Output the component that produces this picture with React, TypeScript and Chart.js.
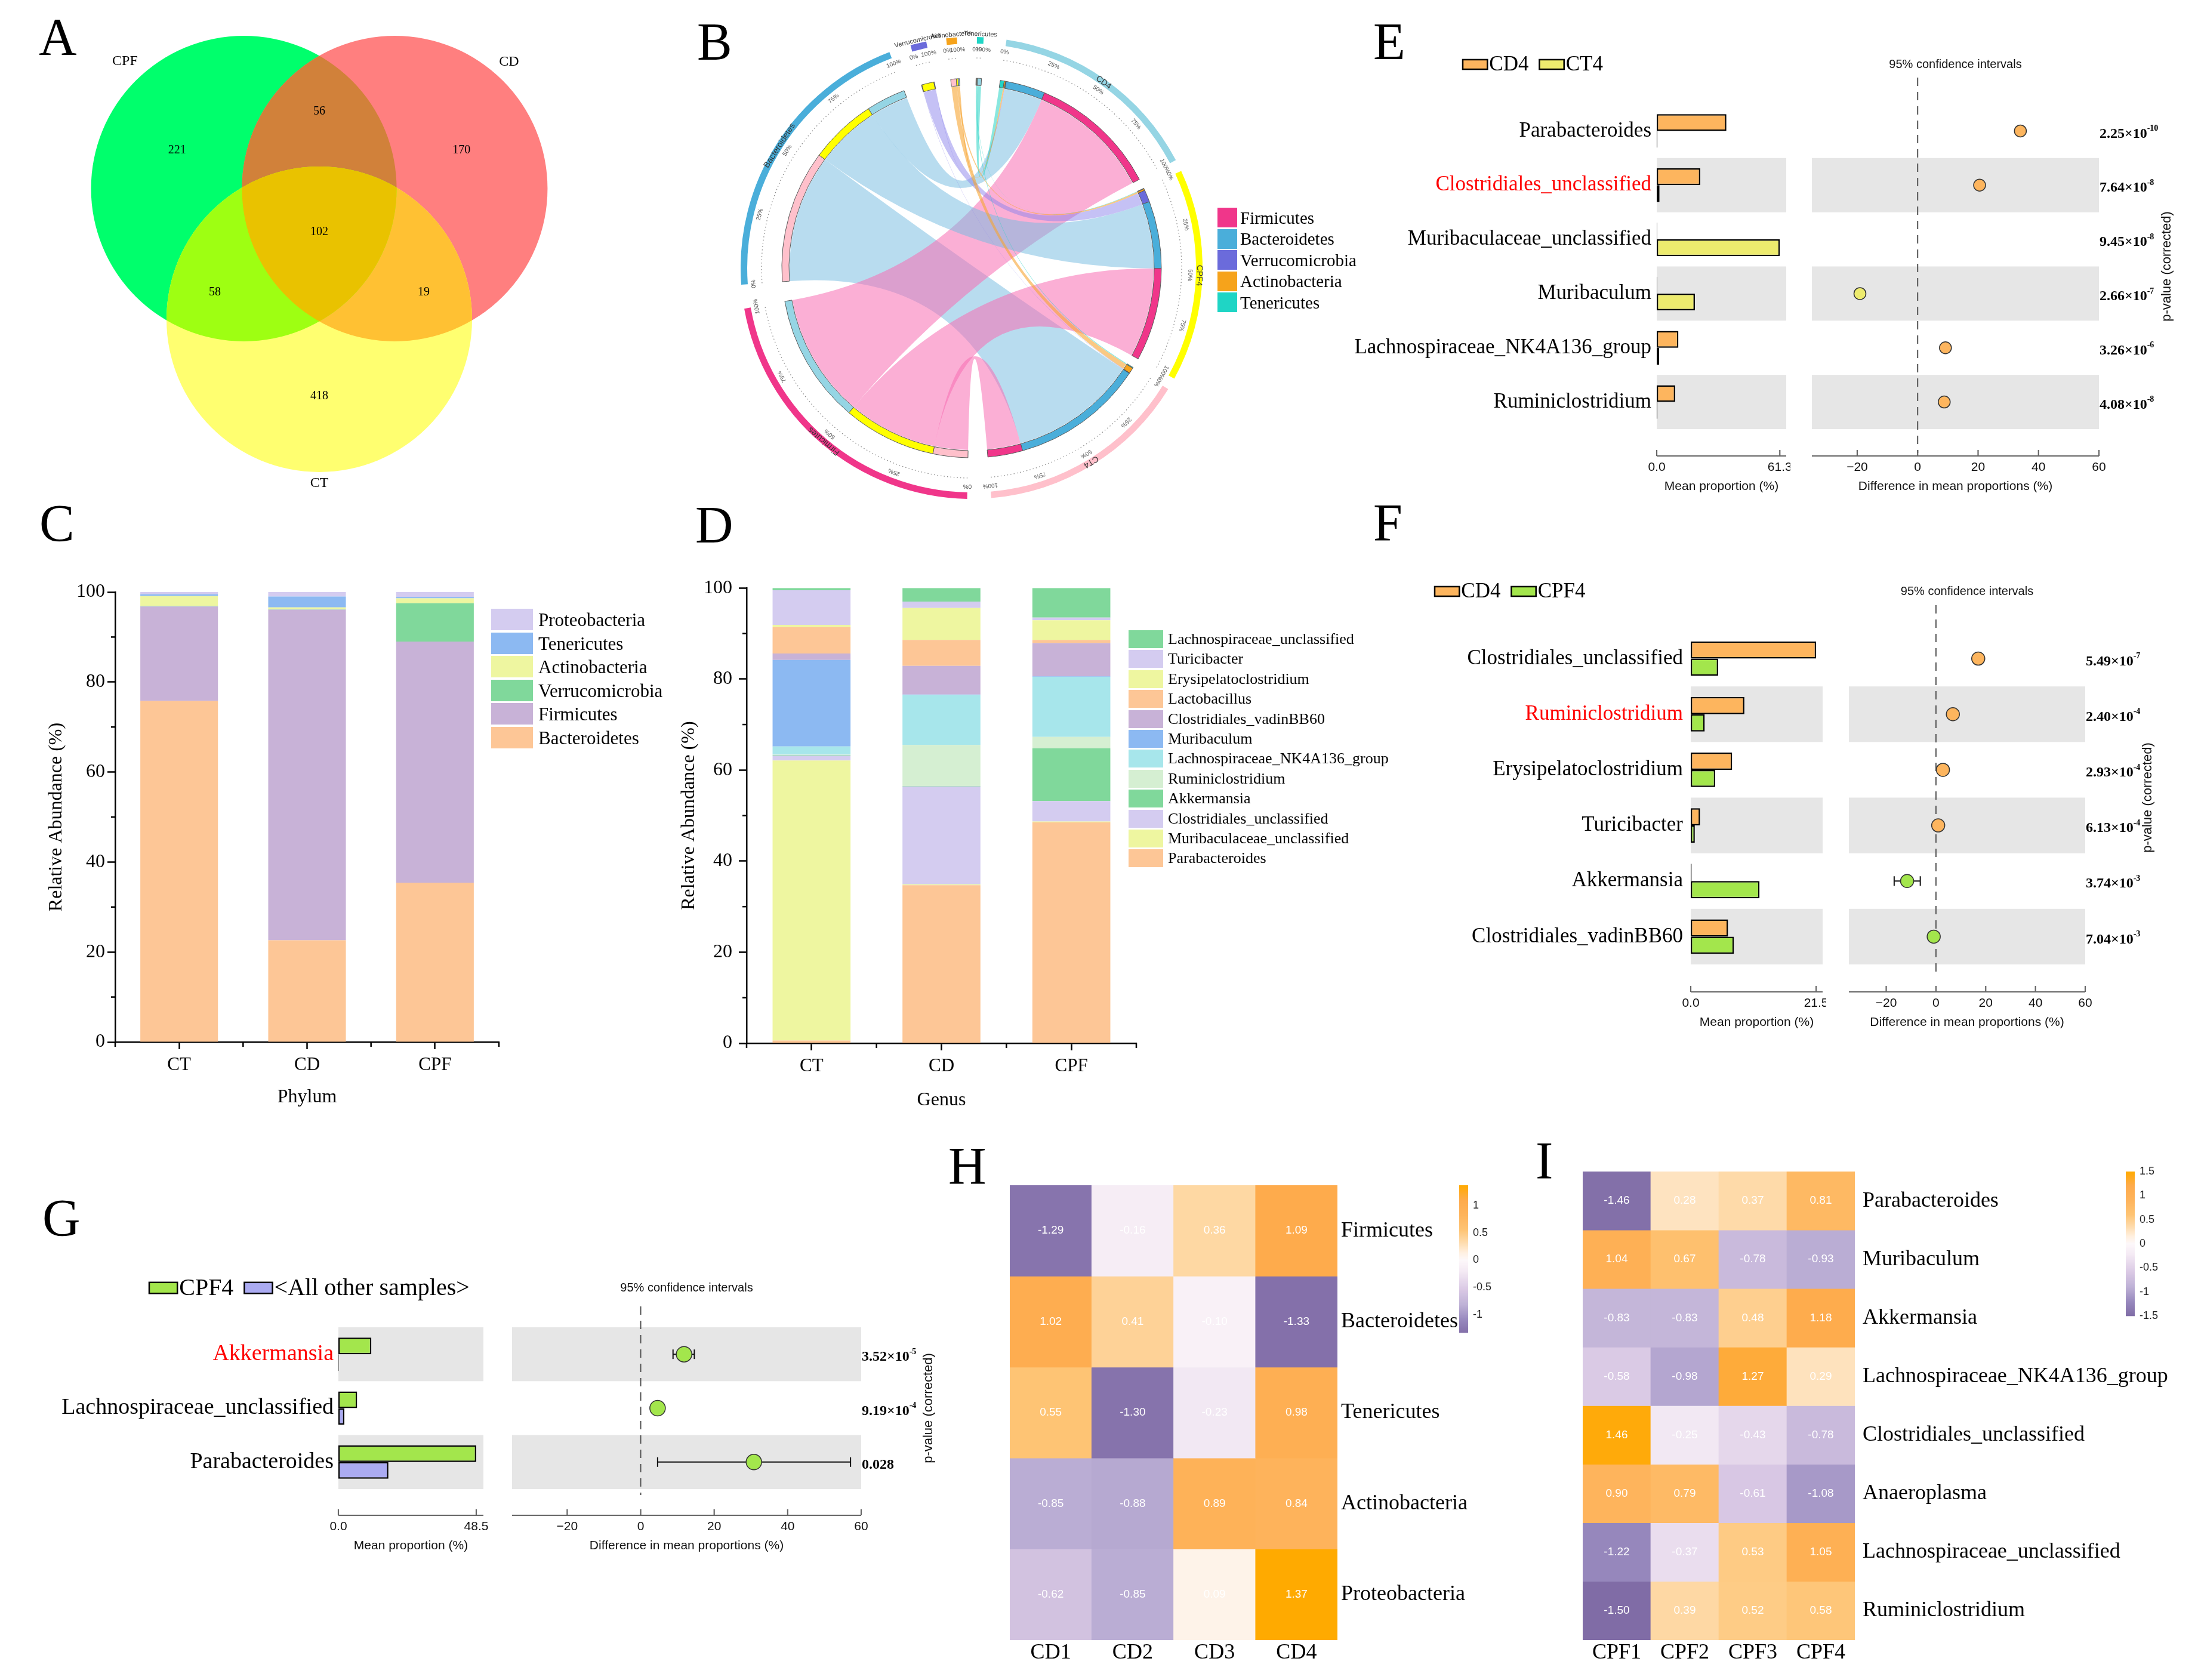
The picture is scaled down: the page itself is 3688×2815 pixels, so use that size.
import React, { useEffect, useRef } from 'react';
import { Chart, registerables } from 'chart.js';

Chart.register(...registerables);

const SERIF = '"Liberation Serif", "Times New Roman", Times, serif';
const SANS = '"Liberation Sans", Arial, Helvetica, sans-serif';

// ================= Panel A : Venn =================
const vennSets = ['CPF', 'CD', 'CT'];
const vennOnly = [221, 170, 418];
const vennPairs = [56, 19, 58]; // CPF∩CD, CD∩CT, CPF∩CT
const vennAll = [102];
const vennColors = ['#00FF6C', '#FF7F7F', '#FFFF70'];
const vennPairColors = ['#D1813A', '#FFC133', '#9EFF12'];
const vennTripleColor = '#E9C200';
const vennAngles = [150, 30, 270];
const VENN_DIST = 1.46;
const VENN_R = 256;
const vennLabelAngles = [133, 48, 270];
const vennLabelDist = [2.92, 2.86, 2.75];

// ================= Panel B : chord =================
const chordSamples = ['CD4', 'CPF4', 'CT4'];
const chordPhyla = ['Firmicutes', 'Bacteroidetes', 'Verrucomicrobia', 'Actinobacteria', 'Tenericutes'];
const chordCD4 = [74.0, 22.6, 0.3, 0.8, 2.3];
const chordCPF4 = [53.3, 38.5, 6.9, 1.0, 0.3];
const chordCT4 = [20.0, 76.0, 0.3, 3.2, 0.5];
const chordSampleColors = ['#95D5E4', '#FFFF00', '#FFC0CB'];
const chordPhylumColors = ['#F0368A', '#4AAEDA', '#6B6BDB', '#F6A31B', '#1FD5C5'];
const chordRibbonColors = ['rgba(248,110,178,0.55)', 'rgba(118,188,224,0.52)', 'rgba(140,132,235,0.5)', 'rgba(246,165,50,0.6)', 'rgba(40,212,196,0.55)'];
const chordGapsDeg = [3, 3, 6, 6, 5.5, 5, 5, 5.7];
const CHORD_START = 8.7;

// ================= Panel C : phylum stacked =================
const phylumGroups = ['CT', 'CD', 'CPF'];
const phyBacteroidetes = [75.8, 22.6, 35.4];
const phyFirmicutes = [21.0, 73.5, 53.6];
const phyVerrucomicrobia = [0.1, 0.1, 8.5];
const phyActinobacteria = [2.2, 0.4, 1.1];
const phyTenericutes = [0.4, 2.4, 0.3];
const phyProteobacteria = [0.5, 1.0, 1.1];

// ================= Panel D : genus stacked =================
const genusGroups = ['CT', 'CD', 'CPF'];
const genParabacteroides = [0.6, 34.7, 48.5];
const genMuribaculaceaeUncl = [61.5, 0.2, 0.2];
const genClostridialesUncl = [1.1, 21.5, 4.5];
const genAkkermansia = [0.1, 0.1, 11.6];
const genRuminiclostridium = [0.1, 9.0, 2.5];
const genLachnoNK4A136 = [1.8, 11.0, 13.2];
const genMuribaculum = [19.0, 0.1, 0.1];
const genClostridialesVadin = [1.4, 6.3, 7.3];
const genLactobacillus = [5.8, 5.7, 0.7];
const genErysipelatoclostridium = [0.5, 7.0, 4.3];
const genTuricibacter = [7.6, 1.4, 0.6];
const genLachnoUncl = [0.5, 3.0, 6.5];

// ================= Panels E/F/G : extended error bars =================
const COL_CD4 = '#FDB55E';
const COL_CT4 = '#EDEB6E';
const COL_CPF4 = '#A3E64C';
const COL_OTHER = '#ABABF2';
const diffTicks = [-20, 0, 20, 40, 60];

const eTaxa = ['Parabacteroides', 'Clostridiales_unclassified', 'Muribaculaceae_unclassified', 'Muribaculum', 'Lachnospiraceae_NK4A136_group', 'Ruminiclostridium'];
const eGroups = ['CD4', 'CT4'];
const eMeanCD4 = [34.7, 21.7, 0.2, 0.2, 10.8, 9.2];
const eMeanCT4 = [0.3, 1.4, 61.3, 19.0, 1.2, 0.3];
const eMeanTicks = [0, 61.3];
const eDiff = [34.0, 20.5, -60.7, -19.1, 9.2, 8.8];
const eCiLow = [33.2, 19.7, -62.0, -19.9, 8.5, 8.1];
const eCiHigh = [34.8, 21.3, -59.4, -18.3, 9.9, 9.5];
const ePMant = ['2.25', '7.64', '9.45', '2.66', '3.26', '4.08'];
const ePExp = ['-10', '-8', '-8', '-7', '-6', '-8'];

const fTaxa = ['Clostridiales_unclassified', 'Ruminiclostridium', 'Erysipelatoclostridium', 'Turicibacter', 'Akkermansia', 'Clostridiales_vadinBB60'];
const fGroups = ['CD4', 'CPF4'];
const fMeanCD4 = [21.5, 9.2, 7.1, 1.6, 0.15, 6.4];
const fMeanCPF4 = [4.7, 2.4, 4.2, 0.7, 11.8, 7.4];
const fMeanTicks = [0, 21.5];
const fDiff = [17.0, 6.8, 2.8, 0.9, -11.6, -0.9];
const fCiLow = [16.2, 6.0, 2.0, 0.2, -16.8, -1.7];
const fCiHigh = [17.8, 7.6, 3.6, 1.6, -6.3, -0.1];
const fPMant = ['5.49', '2.40', '2.93', '6.13', '3.74', '7.04'];
const fPExp = ['-7', '-4', '-4', '-4', '-3', '-3'];

const gTaxa = ['Akkermansia', 'Lachnospiraceae_unclassified', 'Parabacteroides'];
const gGroups = ['CPF4', '<All other samples>'];
const gMeanCPF4 = [11.6, 6.6, 48.5];
const gMeanOthers = [0.15, 2.1, 17.6];
const gMeanTicks = [0, 48.5];
const gDiff = [11.8, 4.6, 30.8];
const gCiLow = [8.8, 3.8, 4.6];
const gCiHigh = [14.6, 5.4, 57.1];
const gPMant = ['3.52', '9.19', '0.028'];
const gPExp = ['-5', '-4', ''];

// ================= Panels H/I : heatmaps =================
const hCols = ['CD1', 'CD2', 'CD3', 'CD4'];
const hRows = ['Firmicutes', 'Bacteroidetes', 'Tenericutes', 'Actinobacteria', 'Proteobacteria'];
const hFirmicutes = [-1.29, -0.16, 0.36, 1.09];
const hBacteroidetes = [1.02, 0.41, -0.10, -1.33];
const hTenericutes = [0.55, -1.30, -0.23, 0.98];
const hActinobacteria = [-0.85, -0.88, 0.89, 0.84];
const hProteobacteria = [-0.62, -0.85, 0.09, 1.37];
const hBarTicks = [1, 0.5, 0, -0.5, -1];

const iCols = ['CPF1', 'CPF2', 'CPF3', 'CPF4'];
const iRows = ['Parabacteroides', 'Muribaculum', 'Akkermansia', 'Lachnospiraceae_NK4A136_group', 'Clostridiales_unclassified', 'Anaeroplasma', 'Lachnospiraceae_unclassified', 'Ruminiclostridium'];
const iParabacteroides = [-1.46, 0.28, 0.37, 0.81];
const iMuribaculum = [1.04, 0.67, -0.78, -0.93];
const iAkkermansia = [-0.83, -0.83, 0.48, 1.18];
const iLachnoNK = [-0.58, -0.98, 1.27, 0.29];
const iClostUncl = [1.46, -0.25, -0.43, -0.78];
const iAnaeroplasma = [0.90, 0.79, -0.61, -1.08];
const iLachnoUncl = [-1.22, -0.37, 0.53, 1.05];
const iRuminiclostridium = [-1.50, 0.39, 0.52, 0.58];
const iBarTicks = [1.5, 1, 0.5, 0, -0.5, -1, -1.5];

const heatStops: [number, number[]][] = [
  [-1, [128, 108, 166]], [-0.8, [152, 137, 190]], [-0.6, [190, 177, 214]], [-0.4, [217, 200, 228]],
  [-0.15, [244, 234, 244]], [0, [253, 248, 250]], [0.1, [255, 240, 224]], [0.26, [254, 216, 164]],
  [0.4, [254, 196, 116]], [0.6, [254, 180, 92]], [0.8, [254, 171, 76]], [1, [255, 170, 0]],
];

function heatColor(t: number) {
  const v = Math.max(-1, Math.min(1, t));
  for (let i = 0; i < heatStops.length - 1; i++) {
    const [a, ca] = heatStops[i];
    const [b, cb] = heatStops[i + 1];
    if (v >= a && v <= b) {
      const f = (v - a) / (b - a);
      const c = ca.map((x, k) => Math.round(x + (cb[k] - x) * f));
      return `rgb(${c[0]},${c[1]},${c[2]})`;
    }
  }
  return 'rgb(255,170,0)';
}

const line = (ctx: any, x1: number, y1: number, x2: number, y2: number) => {
  ctx.beginPath(); ctx.moveTo(x1, y1); ctx.lineTo(x2, y2); ctx.stroke();
};

const base = (padding: any) => ({
  responsive: false,
  animation: false,
  events: [],
  layout: { padding, autoPadding: false },
  plugins: { legend: { display: false }, tooltip: { enabled: false } },
});

function ChartCanvas({ box, make }: any) {
  const ref = useRef<HTMLCanvasElement | null>(null);
  useEffect(() => {
    if (!ref.current) return;
    const chart = new Chart(ref.current, make());
    return () => chart.destroy();
  }, []);
  return (
    <canvas ref={ref} width={box.w} height={box.h}
      style={{ position: 'absolute', left: box.x, top: box.y, width: box.w, height: box.h }} />
  );
}

function Txt({ x, y, s, size, family = SERIF, align = 'left', color = '#000', weight = 400 }: any) {
  const tx = align === 'left' ? '0' : align === 'center' ? '-50%' : '-100%';
  return (
    <div style={{ position: 'absolute', left: x, top: y, transform: `translate(${tx}, -50%)`, fontSize: size, fontFamily: family, lineHeight: 1, whiteSpace: 'nowrap', color, fontWeight: weight }}>{s}</div>
  );
}

// ---------------- Venn ----------------
const vennPlugin = {
  id: 'venn',
  afterDatasetsDraw(chart: any) {
    const ctx = chart.ctx;
    const pts = chart.getDatasetMeta(0).data.map((e: any) => ({ x: e.x, y: e.y }));
    const circ = (i: number) => { ctx.beginPath(); ctx.arc(pts[i].x, pts[i].y, VENN_R, 0, Math.PI * 2); };
    const pairIdx = [[0, 1], [1, 2], [0, 2]];
    pairIdx.forEach(([i, j], k) => {
      ctx.save(); circ(i); ctx.clip(); circ(j); ctx.fillStyle = vennPairColors[k]; ctx.fill(); ctx.restore();
    });
    ctx.save(); circ(0); ctx.clip(); circ(1); ctx.clip(); circ(2); ctx.fillStyle = vennTripleColor; ctx.fill(); ctx.restore();
    const xs = chart.scales.x, ys = chart.scales.y;
    const cx = xs.getPixelForValue(0), cy = ys.getPixelForValue(0);
    const unit = xs.getPixelForValue(1) - cx;
    const dir = vennAngles.map((a) => ({ x: Math.cos(a * Math.PI / 180), y: -Math.sin(a * Math.PI / 180) }));
    ctx.save();
    ctx.fillStyle = '#000'; ctx.textAlign = 'center'; ctx.textBaseline = 'middle';
    ctx.font = `20px ${SERIF}`;
    vennOnly.forEach((n, i) => ctx.fillText(String(n), cx + dir[i].x * 2.75 * unit, cy + dir[i].y * 2.75 * unit));
    pairIdx.forEach(([i, j], k) => {
      const o = 3 - i - j;
      ctx.fillText(String(vennPairs[k]), cx - dir[o].x * 2.02 * unit, cy - dir[o].y * 2.02 * unit);
    });
    ctx.fillText(String(vennAll[0]), cx, cy);
    ctx.font = `24px ${SERIF}`;
    vennSets.forEach((s, i) => {
      const a = vennLabelAngles[i] * Math.PI / 180;
      ctx.fillText(s, pts[i].x + Math.cos(a) * vennLabelDist[i] * unit, pts[i].y - Math.sin(a) * vennLabelDist[i] * unit);
    });
    ctx.restore();
  },
};

function vennConfig() {
  const pts = vennAngles.map((a) => ({ x: VENN_DIST * Math.cos(a * Math.PI / 180), y: VENN_DIST * Math.sin(a * Math.PI / 180), r: VENN_R }));
  return {
    type: 'bubble',
    data: { datasets: [{ data: pts, backgroundColor: vennColors, borderWidth: 0, hoverBorderWidth: 0, hoverRadius: 0, clip: false }] },
    options: {
      ...base(0),
      scales: {
        x: { type: 'linear', min: -5.35, max: 6.15, display: false },
        y: { type: 'linear', min: -4.71, max: 3.89, display: false },
      },
    },
    plugins: [vennPlugin],
  };
}

// ---------------- Chord ----------------
function chordData() {
  const M = [chordCD4, chordCPF4, chordCT4];
  const sampleTotals = M.map((r) => r.reduce((a, b) => a + b, 0));
  const phylumTotals = chordPhyla.map((_, p) => M.reduce((a, r) => a + r[p], 0));
  const units = sampleTotals.reduce((a, b) => a + b, 0) + phylumTotals.reduce((a, b) => a + b, 0);
  const gapSum = chordGapsDeg.reduce((a, b) => a + b, 0);
  const upd = units / (360 - gapSum);
  const outerData: number[] = [], outerColors: string[] = [];
  const innerData: number[] = [], innerColors: string[] = [], innerBorders: number[] = [];
  const sectorIdx: number[] = [], sectorNames: string[] = [];
  const sampleSeg: number[][] = M.map(() => []);
  const phylumSeg: number[][] = chordPhyla.map(() => []);
  const T = 'rgba(0,0,0,0)';
  let g = 0;
  const gap = () => {
    const u = chordGapsDeg[g++] * upd;
    outerData.push(u); outerColors.push(T);
    innerData.push(u); innerColors.push(T); innerBorders.push(0);
  };
  M.forEach((row, s) => {
    sectorIdx.push(outerData.length); sectorNames.push(chordSamples[s]);
    outerData.push(sampleTotals[s]); outerColors.push(chordSampleColors[s]);
    [4, 3, 2, 1, 0].forEach((p) => {
      sampleSeg[s][p] = innerData.length; innerData.push(row[p]); innerColors.push(chordPhylumColors[p]); innerBorders.push(1);
    });
    gap();
  });
  chordPhyla.forEach((name, p) => {
    sectorIdx.push(outerData.length); sectorNames.push(name);
    outerData.push(phylumTotals[p]); outerColors.push(chordPhylumColors[p]);
    [2, 1, 0].forEach((s) => {
      phylumSeg[p][s] = innerData.length; innerData.push(M[s][p]); innerColors.push(chordSampleColors[s]); innerBorders.push(1);
    });
    gap();
  });
  const links: any[] = [];
  M.forEach((row, s) => row.forEach((v, p) => links.push({ a: sampleSeg[s][p], b: phylumSeg[p][s], v, color: chordRibbonColors[p] })));
  links.sort((x, y) => y.v - x.v);
  return { outerData, outerColors, innerData, innerColors, innerBorders, sectorIdx, sectorNames, links };
}

function chordConfig() {
  const d = chordData();
  const plugin = {
    id: 'chords',
    afterDatasetsDraw(chart: any) {
      const ctx = chart.ctx;
      const arcs = chart.getDatasetMeta(2).data;
      const outs = chart.getDatasetMeta(0).data;
      const cx = arcs[0].x, cy = arcs[0].y;
      const r = arcs[0].innerRadius - 1;
      const pt = (a: number) => [cx + r * Math.cos(a), cy + r * Math.sin(a)];
      ctx.save();
      d.links.forEach((l: any) => {
        const A = arcs[l.a], B = arcs[l.b];
        ctx.beginPath();
        ctx.arc(cx, cy, r, A.startAngle, A.endAngle);
        let p = pt(B.startAngle);
        ctx.quadraticCurveTo(cx, cy, p[0], p[1]);
        ctx.arc(cx, cy, r, B.startAngle, B.endAngle);
        p = pt(A.startAngle);
        ctx.quadraticCurveTo(cx, cy, p[0], p[1]);
        ctx.closePath();
        ctx.fillStyle = l.color;
        ctx.fill();
      });
      const arcText = (text: string, ang: number, rad: number, font: string, color: string) => {
        ctx.save();
        ctx.translate(cx + rad * Math.cos(ang), cy + rad * Math.sin(ang));
        ctx.rotate(ang + Math.PI / 2);
        ctx.font = font; ctx.fillStyle = color; ctx.textAlign = 'center'; ctx.textBaseline = 'middle';
        ctx.fillText(text, 0, 0);
        ctx.restore();
      };
      d.sectorIdx.forEach((idx: number, k: number) => {
        const e = outs[idx];
        const big = e.endAngle - e.startAngle > 0.25;
        ctx.save();
        ctx.strokeStyle = '#8a8a8a'; ctx.lineWidth = 1.3; ctx.setLineDash([1.5, 4]);
        ctx.beginPath(); ctx.arc(cx, cy, 352, e.startAngle, e.endAngle); ctx.stroke();
        ctx.restore();
        const fr = big ? [0, 0.25, 0.5, 0.75, 1] : [0, 1];
        fr.forEach((f) => {
          const ang = e.startAngle + (e.endAngle - e.startAngle) * f;
          arcText(`${Math.round(f * 100)}%`, ang, 366, `10px ${SANS}`, '#555');
        });
        const mid = (e.startAngle + e.endAngle) / 2;
        if (big) arcText(d.sectorNames[k], mid, (e.innerRadius + e.outerRadius) / 2, `14px ${SANS}`, '#333');
        else arcText(d.sectorNames[k], mid, 392, `11px ${SANS}`, '#333');
      });
      ctx.restore();
    },
  };
  return {
    type: 'doughnut',
    data: {
      labels: d.outerData.map((_: any, i: number) => String(i)),
      datasets: [
        { data: d.outerData, backgroundColor: d.outerColors, borderWidth: 0, hoverBorderWidth: 0, offset: 0, hoverOffset: 0, weight: 11 },
        { data: [1], backgroundColor: ['rgba(0,0,0,0)'], borderWidth: 0, hoverBorderWidth: 0, offset: 0, hoverOffset: 0, weight: 58 },
        { data: d.innerData, backgroundColor: d.innerColors, borderColor: '#5a5a5a', borderWidth: d.innerBorders, hoverBorderWidth: 0, offset: 0, hoverOffset: 0, weight: 12 },
      ],
    },
    options: { ...base({ top: 22, bottom: 10, left: 0, right: 226 }), rotation: CHORD_START, cutout: 306 },
    plugins: [plugin],
  };
}

// ---------------- Stacked bars (C, D) ----------------
const minorTicksPlugin = {
  id: 'minorTicks',
  afterDraw(chart: any) {
    const { ctx, chartArea: a, scales } = chart;
    const x = scales.x, y = scales.y;
    ctx.save(); ctx.strokeStyle = '#000'; ctx.lineWidth = 2.5;
    for (let v = 10; v < 100; v += 20) { const py = y.getPixelForValue(v); line(ctx, a.left - 7, py, a.left, py); }
    const n = chart.data.labels.length;
    for (let i = 0; i <= n; i++) { const px = x.getPixelForValue(i - 0.5); line(ctx, px, a.bottom, px, a.bottom + 8); }
    ctx.restore();
  },
};

function stackConfig(cats: string[], series: any[], lay: any) {
  const grid = { display: true, drawOnChartArea: false, drawTicks: true, tickWidth: 2.5, color: '#000', offset: false };
  return {
    type: 'bar',
    data: {
      labels: cats,
      datasets: series.map((s) => ({ label: s.name, data: s.data, backgroundColor: s.color, borderWidth: 0, barPercentage: lay.barPct, categoryPercentage: 1 })),
    },
    options: {
      ...base({ top: lay.padTop, right: lay.padRight, left: 0, bottom: 0 }),
      scales: {
        x: {
          stacked: true,
          grid: { ...grid, tickLength: 12 },
          border: { display: true, color: '#000', width: 2.5 },
          ticks: { font: { family: SERIF, size: 31 }, color: '#000', padding: 8 },
          title: { display: true, text: lay.xTitle, font: { family: SERIF, size: 32 }, color: '#000', padding: { top: 0, bottom: lay.xTitlePad } },
          afterFit: (s: any) => { s.height = lay.xH; },
        },
        y: {
          stacked: true, min: 0, max: 100,
          grid: { ...grid, tickLength: 13 },
          border: { display: true, color: '#000', width: 2.5 },
          ticks: { stepSize: 20, font: { family: SERIF, size: 32 }, color: '#000', padding: lay.yTickPad },
          title: { display: true, text: 'Relative Abundance (%)', font: { family: SERIF, size: 32 }, color: '#000', padding: { top: lay.yTitlePad, bottom: 0 } },
          afterFit: (s: any) => { s.width = lay.yW; },
        },
      },
    },
    plugins: [minorTicksPlugin],
  };
}

const phylumSeries = [
  { name: 'Bacteroidetes', data: phyBacteroidetes, color: '#FDC696' },
  { name: 'Firmicutes', data: phyFirmicutes, color: '#C8B2D7' },
  { name: 'Verrucomicrobia', data: phyVerrucomicrobia, color: '#80D89B' },
  { name: 'Actinobacteria', data: phyActinobacteria, color: '#EEF6A0' },
  { name: 'Tenericutes', data: phyTenericutes, color: '#8CB9F2' },
  { name: 'Proteobacteria', data: phyProteobacteria, color: '#D4CCF0' },
];

const genusSeries = [
  { name: 'Parabacteroides', data: genParabacteroides, color: '#FDC696' },
  { name: 'Muribaculaceae_unclassified', data: genMuribaculaceaeUncl, color: '#EEF6A0' },
  { name: 'Clostridiales_unclassified', data: genClostridialesUncl, color: '#D4CCF0' },
  { name: 'Akkermansia', data: genAkkermansia, color: '#80D89B' },
  { name: 'Ruminiclostridium', data: genRuminiclostridium, color: '#D5EFD2' },
  { name: 'Lachnospiraceae_NK4A136_group', data: genLachnoNK4A136, color: '#A7E6EB' },
  { name: 'Muribaculum', data: genMuribaculum, color: '#8CB9F2' },
  { name: 'Clostridiales_vadinBB60', data: genClostridialesVadin, color: '#C8B2D7' },
  { name: 'Lactobacillus', data: genLactobacillus, color: '#FDC696' },
  { name: 'Erysipelatoclostridium', data: genErysipelatoclostridium, color: '#EEF6A0' },
  { name: 'Turicibacter', data: genTuricibacter, color: '#D4CCF0' },
  { name: 'Lachnospiraceae_unclassified', data: genLachnoUncl, color: '#80D89B' },
];

const C_BOX = { x: 40, y: 960, w: 810, h: 920 };
const C_LAY = { padTop: 32, padRight: 14, yW: 153, xH: 134, xTitle: 'Phylum', xTitlePad: 21.8, yTitlePad: 35.8, yTickPad: 4, barPct: 0.607 };
const D_BOX = { x: 1110, y: 955, w: 800, h: 925 };
const D_LAY = { padTop: 30, padRight: 6, yW: 141, xH: 132, xTitle: 'Genus', xTitlePad: 16.8, yTitlePad: 25.8, yTickPad: 11, barPct: 0.6 };

// ---------------- STAMP panels ----------------
const stampE = {
  taxa: eTaxa, highlight: 1, groups: eGroups, colors: [COL_CD4, COL_CT4], mean1: eMeanCD4, mean2: eMeanCT4,
  meanTicks: eMeanTicks, diff: eDiff, ciLow: eCiLow, ciHigh: eCiHigh, pMant: ePMant, pExp: ePExp,
  meansBox: { x: 2240, y: 60, w: 760, h: 780 }, meansArea: { l: 2776, r: 2993, t: 174, b: 719 },
  diffBox: { x: 3010, y: 60, w: 660, h: 780 }, diffArea: { l: 3036, r: 3517, t: 174, b: 719 },
  labelSize: 35, labelPad: 9, legendX: 2451, legendSize: 35, dotR: 10, pLabelDx: 114, axOff: 45, dashTop: 44, dashBottom: 40,
};
const stampF = {
  taxa: fTaxa, highlight: 1, groups: fGroups, colors: [COL_CD4, COL_CPF4], mean1: fMeanCD4, mean2: fMeanCPF4,
  meanTicks: fMeanTicks, diff: fDiff, ciLow: fCiLow, ciHigh: fCiHigh, pMant: fPMant, pExp: fPExp,
  meansBox: { x: 2340, y: 940, w: 720, h: 800 }, meansArea: { l: 2833, r: 3054, t: 1057, b: 1616 },
  diffBox: { x: 3070, y: 940, w: 610, h: 800 }, diffArea: { l: 3098, r: 3494, t: 1057, b: 1616 },
  labelSize: 35, labelPad: 13, legendX: 2404, legendSize: 35, dotR: 11, pLabelDx: 105, axOff: 46, dashTop: 43, dashBottom: 20,
};
const stampG = {
  taxa: gTaxa, highlight: 0, groups: gGroups, colors: [COL_CPF4, COL_OTHER], mean1: gMeanCPF4, mean2: gMeanOthers,
  meanTicks: gMeanTicks, diff: gDiff, ciLow: gCiLow, ciHigh: gCiHigh, pMant: gPMant, pExp: gPExp,
  meansBox: { x: 40, y: 2120, w: 780, h: 520 }, meansArea: { l: 567, r: 810, t: 2224, b: 2495 },
  diffBox: { x: 830, y: 2120, w: 760, h: 520 }, diffArea: { l: 858, r: 1443, t: 2224, b: 2495 },
  labelSize: 38, labelPad: 8, legendX: 250, legendSize: 40, dotR: 13, pLabelDx: 113, axOff: 44, dashTop: 35, dashBottom: 10,
};

function shadeRows(ctx: any, a: any, y: any, n: number) {
  const h = (a.bottom - a.top) / n;
  ctx.save(); ctx.fillStyle = '#E6E6E6';
  for (let i = 0; i < n; i++) if ((n - 1 - i) % 2 === 0) ctx.fillRect(a.left, y.getPixelForValue(i) - h / 2, a.right - a.left, h);
  ctx.restore();
}

function meansConfig(sp: any) {
  const B = sp.meansBox, A = sp.meansArea;
  const plugin = {
    id: 'stampMeans',
    beforeDatasetsDraw(chart: any) { shadeRows(chart.ctx, chart.chartArea, chart.scales.y, sp.taxa.length); },
    afterDraw(chart: any) {
      const { ctx, chartArea: a, scales } = chart;
      const x = scales.x;
      const axY = a.bottom + sp.axOff;
      ctx.save();
      ctx.strokeStyle = '#666'; ctx.lineWidth = 2.2;
      line(ctx, x.getPixelForValue(0), axY, a.right, axY);
      sp.meanTicks.forEach((v: number) => { const px = x.getPixelForValue(v); line(ctx, px, axY, px, axY - 10); });
      ctx.fillStyle = '#111'; ctx.font = `21px ${SANS}`; ctx.textAlign = 'center'; ctx.textBaseline = 'middle';
      sp.meanTicks.forEach((v: number) => ctx.fillText(v.toFixed(1), x.getPixelForValue(v), axY + 19));
      ctx.fillText('Mean proportion (%)', (a.left + a.right) / 2, axY + 51);
      let lx = sp.legendX - B.x;
      const ly = a.top - 66;
      ctx.font = `${sp.legendSize}px ${SERIF}`; ctx.textAlign = 'left';
      const bw = sp.legendSize * 1.18, bh = sp.legendSize * 0.46;
      sp.groups.forEach((g: string, k: number) => {
        ctx.fillStyle = sp.colors[k]; ctx.fillRect(lx, ly - bh / 2, bw, bh);
        ctx.strokeStyle = '#000'; ctx.lineWidth = 2.5; ctx.strokeRect(lx, ly - bh / 2, bw, bh);
        ctx.fillStyle = '#000'; ctx.fillText(g, lx + bw + 3, ly + 1);
        lx += bw + 3 + ctx.measureText(g).width + 18;
      });
      ctx.restore();
    },
  };
  return {
    type: 'bar',
    data: {
      labels: sp.taxa,
      datasets: [
        { label: sp.groups[0], data: sp.mean1, backgroundColor: sp.colors[0], borderColor: '#000', borderWidth: 2.5, borderSkipped: false, categoryPercentage: 0.62, barPercentage: 1 },
        { label: sp.groups[1], data: sp.mean2, backgroundColor: sp.colors[1], borderColor: '#000', borderWidth: 2.5, borderSkipped: false, categoryPercentage: 0.62, barPercentage: 1 },
      ],
    },
    options: {
      ...base({ left: 0, top: A.t - B.y, right: B.x + B.w - A.r, bottom: B.y + B.h - A.b }),
      indexAxis: 'y',
      scales: {
        x: { type: 'linear', min: 0, max: sp.meanTicks[1] * 1.052, display: false },
        y: {
          type: 'category',
          grid: { display: false, drawTicks: false },
          border: { display: false },
          ticks: { autoSkip: false, padding: sp.labelPad, font: { family: SERIF, size: sp.labelSize }, color: (c: any) => (c.index === sp.highlight ? '#FF0000' : '#000') },
          afterFit: (s: any) => { s.width = A.l - B.x; },
        },
      },
    },
    plugins: [plugin],
  };
}

function diffConfig(sp: any) {
  const B = sp.diffBox, A = sp.diffArea;
  const n = sp.taxa.length;
  const plugin = {
    id: 'stampDiff',
    beforeDatasetsDraw(chart: any) {
      const { ctx, chartArea: a, scales } = chart;
      const x = scales.x, y = scales.y;
      shadeRows(ctx, a, y, n);
      const x0 = x.getPixelForValue(0);
      ctx.save();
      ctx.strokeStyle = '#555'; ctx.lineWidth = 2; ctx.setLineDash([14, 10]);
      line(ctx, x0, a.top - sp.dashTop, x0, a.bottom + sp.dashBottom);
      ctx.setLineDash([]);
      ctx.beginPath(); ctx.rect(a.left, a.top, a.right - a.left, a.bottom - a.top); ctx.clip();
      ctx.strokeStyle = '#111'; ctx.lineWidth = 2;
      sp.ciLow.forEach((lo: number, i: number) => {
        const py = y.getPixelForValue(i);
        const x1 = x.getPixelForValue(lo), x2 = x.getPixelForValue(sp.ciHigh[i]);
        line(ctx, x1, py, x2, py); line(ctx, x1, py - 8, x1, py + 8); line(ctx, x2, py - 8, x2, py + 8);
      });
      ctx.restore();
    },
    afterDraw(chart: any) {
      const { ctx, chartArea: a, scales } = chart;
      const x = scales.x, y = scales.y;
      const axY = a.bottom + sp.axOff;
      ctx.save();
      ctx.strokeStyle = '#666'; ctx.lineWidth = 2.2;
      line(ctx, a.left, axY, a.right, axY);
      diffTicks.forEach((v) => { const px = x.getPixelForValue(v); line(ctx, px, axY, px, axY - 10); });
      ctx.fillStyle = '#111'; ctx.font = `21px ${SANS}`; ctx.textAlign = 'center'; ctx.textBaseline = 'middle';
      diffTicks.forEach((v) => ctx.fillText(v < 0 ? `\u2212${-v}` : String(v), x.getPixelForValue(v), axY + 19));
      ctx.fillText('Difference in mean proportions (%)', (a.left + a.right) / 2, axY + 51);
      ctx.font = `20px ${SANS}`;
      ctx.fillText('95% confidence intervals', (a.left + a.right) / 2, a.top - 66);
      ctx.textAlign = 'left';
      sp.pMant.forEach((m: string, i: number) => {
        const py = y.getPixelForValue(i) + 5;
        const baseTxt = sp.pExp[i] ? `${m}×10` : m;
        ctx.font = `bold 24px ${SERIF}`; ctx.fillStyle = '#000';
        ctx.fillText(baseTxt, a.right + 1, py);
        if (sp.pExp[i]) {
          const w = ctx.measureText(baseTxt).width;
          ctx.font = `bold 14px ${SERIF}`;
          ctx.fillText(sp.pExp[i], a.right + 1 + w, py - 9);
        }
      });
      ctx.translate(a.right + sp.pLabelDx, (a.top + a.bottom) / 2);
      ctx.rotate(-Math.PI / 2);
      ctx.font = `22px ${SANS}`; ctx.fillStyle = '#111'; ctx.textAlign = 'center';
      ctx.fillText('p-value (corrected)', 0, 0);
      ctx.restore();
    },
  };
  return {
    type: 'scatter',
    data: {
      datasets: [{
        data: sp.diff.map((d: number, i: number) => ({ x: d, y: i })),
        backgroundColor: sp.diff.map((d: number) => (d >= 0 ? sp.colors[0] : sp.colors[1])),
        borderColor: '#333', borderWidth: 1.5, pointRadius: sp.dotR, pointHoverRadius: sp.dotR,
      }],
    },
    options: {
      ...base({ left: A.l - B.x, top: A.t - B.y, right: B.x + B.w - A.r, bottom: B.y + B.h - A.b }),
      scales: {
        x: { type: 'linear', min: -35, max: 60, display: false },
        y: { type: 'linear', min: -0.5, max: n - 0.5, reverse: true, display: false },
      },
    },
    plugins: [plugin],
  };
}

// ---------------- Heatmaps ----------------
const heatH = {
  cols: hCols, rows: hRows, values: [hFirmicutes, hBacteroidetes, hTenericutes, hActinobacteria, hProteobacteria],
  box: { x: 1680, y: 1970, w: 860, h: 845 }, area: { l: 1692, r: 2241, t: 1986, b: 2748 },
  lim: 1.37, cbDx: 204, cbH: 247, cbHi: 1.37, cbLo: -1.33, cbTicks: hBarTicks, rowGap: 6, labelSize: 36,
};
const heatI = {
  cols: iCols, rows: iRows, values: [iParabacteroides, iMuribaculum, iAkkermansia, iLachnoNK, iClostUncl, iAnaeroplasma, iLachnoUncl, iRuminiclostridium],
  box: { x: 2640, y: 1950, w: 1048, h: 865 }, area: { l: 2652, r: 3108, t: 1963, b: 2748 },
  lim: 1.5, cbDx: 454, cbH: 242, cbHi: 1.5, cbLo: -1.5, cbTicks: iBarTicks, rowGap: 13, labelSize: 36,
};

function heatConfig(hp: any) {
  const B = hp.box, A = hp.area;
  const nR = hp.rows.length;
  const plugin = {
    id: 'heat',
    afterDatasetsDraw(chart: any) {
      const { ctx, chartArea: a, scales } = chart;
      const x = scales.x, y = scales.y;
      ctx.save();
      ctx.fillStyle = '#fff'; ctx.font = `19px ${SANS}`; ctx.textAlign = 'center'; ctx.textBaseline = 'middle';
      hp.values.forEach((row: number[], r: number) => row.forEach((v, c) => ctx.fillText(v.toFixed(2), x.getPixelForValue(c), y.getPixelForValue(r + 0.5))));
      ctx.fillStyle = '#000'; ctx.font = `${hp.labelSize}px ${SERIF}`; ctx.textAlign = 'left';
      hp.rows.forEach((name: string, r: number) => ctx.fillText(name, a.right + hp.rowGap, y.getPixelForValue(r + 0.5)));
      ctx.textAlign = 'center';
      hp.cols.forEach((name: string, c: number) => ctx.fillText(name, x.getPixelForValue(c), a.bottom + 22));
      const bx = a.right + hp.cbDx, by = a.top, bw = 15, bh = hp.cbH;
      for (let i = 0; i < bh; i++) {
        const v = hp.cbHi - (hp.cbHi - hp.cbLo) * (i + 0.5) / bh;
        ctx.fillStyle = heatColor(v / hp.lim);
        ctx.fillRect(bx, by + i, bw, 1.3);
      }
      ctx.fillStyle = '#222'; ctx.font = `18px ${SANS}`; ctx.textAlign = 'left';
      hp.cbTicks.forEach((v: number) => {
        const py = by + (hp.cbHi - v) / (hp.cbHi - hp.cbLo) * bh;
        ctx.fillText(String(v), bx + bw + 8, py);
      });
      ctx.restore();
    },
  };
  return {
    type: 'bar',
    data: {
      labels: hp.cols,
      datasets: hp.values.map((row: number[], r: number) => ({
        data: hp.cols.map(() => [r, r + 1]),
        backgroundColor: row.map((v) => heatColor(v / hp.lim)),
        borderWidth: 0, grouped: false, barPercentage: 1, categoryPercentage: 1,
      })),
    },
    options: {
      ...base({ left: A.l - B.x, top: A.t - B.y, right: B.x + B.w - A.r, bottom: B.y + B.h - A.b }),
      scales: {
        x: { type: 'category', display: false },
        y: { type: 'linear', min: 0, max: nR, reverse: true, display: false },
      },
    },
    plugins: [plugin],
  };
}

// ---------------- Legends (HTML) ----------------
function BoxLegend({ items, x, top, pitch, bw, bh, size, tx }: any) {
  return (
    <>
      {items.map((it: any, i: number) => (
        <React.Fragment key={it.name}>
          <div style={{ position: 'absolute', left: x, top: top + i * pitch, width: bw, height: bh, background: it.color }} />
          <Txt x={tx} y={top + i * pitch + bh / 2} s={it.name} size={size} />
        </React.Fragment>
      ))}
    </>
  );
}

const letters = [
  { s: 'A', x: 65, y: 62 }, { s: 'B', x: 1168, y: 70 }, { s: 'E', x: 2301, y: 70 },
  { s: 'C', x: 66, y: 877 }, { s: 'D', x: 1165, y: 880 }, { s: 'F', x: 2301, y: 876 },
  { s: 'G', x: 71, y: 2041 }, { s: 'H', x: 1589, y: 1954 }, { s: 'I', x: 2573, y: 1945 },
];

export default function App() {
  const chordLegend = chordPhyla.map((n, i) => ({ name: n, color: chordPhylumColors[i] }));
  const cLegend = phylumSeries.map((s) => ({ name: s.name, color: s.color })).reverse();
  const dLegend = genusSeries.map((s) => ({ name: s.name, color: s.color })).reverse();
  return (
    <div style={{ position: 'absolute', left: 0, top: 0, width: 3688, height: 2815, background: '#fff', overflow: 'hidden' }}>
      <ChartCanvas box={{ x: 0, y: 0, w: 1150, h: 860 }} make={vennConfig} />
      <ChartCanvas box={{ x: 1241, y: 40, w: 1000, h: 806 }} make={chordConfig} />
      <BoxLegend items={chordLegend} x={2040} top={348} pitch={35.5} bw={33} bh={33} size={29} tx={2078} />
      <ChartCanvas box={C_BOX} make={() => stackConfig(phylumGroups, phylumSeries, C_LAY)} />
      <BoxLegend items={cLegend} x={823} top={1020} pitch={39.6} bw={70} bh={36} size={31} tx={902} />
      <ChartCanvas box={D_BOX} make={() => stackConfig(genusGroups, genusSeries, D_LAY)} />
      <BoxLegend items={dLegend} x={1891} top={1056} pitch={33.4} bw={58} bh={30} size={26} tx={1957} />
      <ChartCanvas box={stampE.meansBox} make={() => meansConfig(stampE)} />
      <ChartCanvas box={stampE.diffBox} make={() => diffConfig(stampE)} />
      <ChartCanvas box={stampF.meansBox} make={() => meansConfig(stampF)} />
      <ChartCanvas box={stampF.diffBox} make={() => diffConfig(stampF)} />
      <ChartCanvas box={stampG.meansBox} make={() => meansConfig(stampG)} />
      <ChartCanvas box={stampG.diffBox} make={() => diffConfig(stampG)} />
      <ChartCanvas box={heatH.box} make={() => heatConfig(heatH)} />
      <ChartCanvas box={heatI.box} make={() => heatConfig(heatI)} />
      {letters.map((l) => <Txt key={l.s} x={l.x} y={l.y} s={l.s} size={88} />)}
    </div>
  );
}
